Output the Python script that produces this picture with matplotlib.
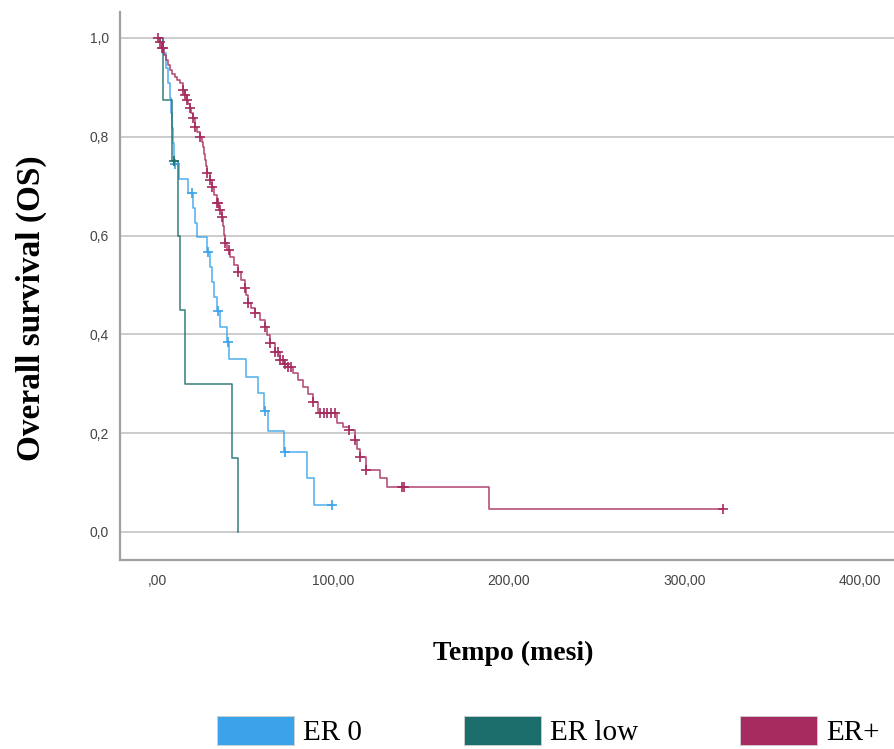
import numpy as np
import matplotlib
matplotlib.use("Agg")
import matplotlib.pyplot as plt
from matplotlib.patches import Patch

# ---------------- data ----------------
groups = ["ER 0", "ER low", "ER+"]
colors = ["#3AA3EA", "#1B6E6C", "#A62B5E"]

# ER 0: event times (months) and survival after each event
er0_times = [2.8, 4.6, 5.7, 6.8, 7.4, 8.0, 8.5, 9.1, 12.0, 17.0, 20.0, 21.0, 22.2,
             27.9, 29.6, 30.8, 31.9, 33.6, 35.3, 39.3, 40.5, 50.1, 57.0, 60.4,
             62.7, 71.8, 84.9, 88.9]
er0_surv = [0.970, 0.939, 0.909, 0.879, 0.848, 0.818, 0.788, 0.745, 0.715, 0.686,
            0.655, 0.626, 0.597, 0.567, 0.537, 0.507, 0.476, 0.447, 0.415, 0.385,
            0.350, 0.314, 0.281, 0.245, 0.204, 0.162, 0.109, 0.055]
er0_censor = [9.7, 19.4, 28.5, 34.2, 39.8, 61.0, 72.5, 99.1]

# ER low
erlow_times = [2.8, 8.0, 11.4, 12.5, 15.4, 42.4, 45.6]
erlow_surv = [0.875, 0.75, 0.60, 0.45, 0.30, 0.15, 0.0]
erlow_censor = [9.1]

# ER+
erp_times = [1.1, 2.3, 3.4, 4.6, 5.7, 6.8, 8.3, 9.7, 11.0, 12.5, 14.2, 15.4, 16.5,
             17.4, 18.2, 19.1, 19.9, 21.1, 22.5, 23.9, 25.0, 25.6, 26.3, 26.8,
             27.4, 27.9, 29.4, 30.8, 32.2, 33.6, 35.0, 36.5, 37.0, 37.6, 38.2,
             39.6, 41.0, 43.3, 45.6, 47.6, 49.6, 50.4, 51.3, 53.3, 55.3, 58.2,
             61.0, 62.4, 63.8, 66.7, 69.5, 71.8, 74.1, 76.9, 79.8, 82.6, 85.5,
             88.3, 91.0, 102.0, 105.5, 108.8, 112.3, 113.7, 115.1, 118.5, 126.5,
             130.5, 188.6]
erp_surv = [0.992, 0.980, 0.966, 0.955, 0.945, 0.935, 0.928, 0.921, 0.915, 0.909,
            0.895, 0.884, 0.874, 0.866, 0.858, 0.848, 0.838, 0.820, 0.810, 0.800,
            0.789, 0.779, 0.766, 0.753, 0.740, 0.727, 0.712, 0.698, 0.682, 0.666,
            0.652, 0.638, 0.620, 0.602, 0.585, 0.571, 0.557, 0.541, 0.526, 0.510,
            0.494, 0.479, 0.464, 0.453, 0.443, 0.429, 0.415, 0.399, 0.383, 0.365,
            0.348, 0.341, 0.334, 0.321, 0.307, 0.294, 0.279, 0.263, 0.241, 0.221,
            0.213, 0.206, 0.186, 0.169, 0.152, 0.126, 0.109, 0.091, 0.047]
erp_censor = [0.3, 1.1, 2.3, 2.8, 14.2, 15.4, 16.5, 18.2, 19.9, 21.1, 23.9, 27.9,
              29.6, 30.8, 33.6, 34.2, 35.3, 36.5, 38.2, 40.5, 45.6, 49.6, 51.3,
              55.3, 61.0, 63.8, 66.7, 68.4, 69.5, 71.2, 72.4, 74.1, 75.8, 88.3,
              92.3, 94.6, 96.3, 98.6, 100.9, 108.8, 112.3, 115.1, 118.5, 139.0,
              140.2, 321.9]

x_ticks = [0, 100, 200, 300, 400]
x_tick_labels = [",00", "100,00", "200,00", "300,00", "400,00"]
y_ticks = [0.0, 0.2, 0.4, 0.6, 0.8, 1.0]
y_tick_labels = ["0,0", "0,2", "0,4", "0,6", "0,8", "1,0"]

# ---------------- figure ----------------
W, H = 895, 749
fig = plt.figure(figsize=(W / 100, H / 100), dpi=100)
ax = fig.add_axes([120 / W, 1 - 560 / H, (W - 120) / W, (560 - 12) / H])

series = [
    (er0_times, er0_surv, er0_censor),
    (erlow_times, erlow_surv, erlow_censor),
    (erp_times, erp_surv, erp_censor),
]

for (t, s, c), col in zip(series, colors):
    t = np.asarray(t, float)
    s = np.asarray(s, float)
    c = np.asarray(c, float)
    end = max(t.max(), c.max() if len(c) else 0)
    xs = np.concatenate([[0.0], t, [end]])
    ys = np.concatenate([[1.0], s, [s[-1]]])
    ax.step(xs, ys, where="post", color=col, lw=1.15, alpha=0.85, zorder=3)
    if len(c):
        idx = np.searchsorted(t, c, side="right") - 1
        cy = np.where(idx >= 0, s[np.clip(idx, 0, None)], 1.0)
        ax.plot(c, cy, linestyle="none", marker="+", ms=7.5, mew=1.2,
                color=col, zorder=4)

ax.set_xlim(-21.6, 420)
ax.set_ylim(-0.0567, 1.0526)
ax.set_xticks(x_ticks)
ax.set_xticklabels(x_tick_labels)
ax.set_yticks(y_ticks)
ax.set_yticklabels(y_tick_labels)

for lab in ax.get_xticklabels() + ax.get_yticklabels():
    lab.set_fontfamily("Liberation Sans")
    lab.set_fontsize(10)
    lab.set_color("#444444")
ax.tick_params(axis="both", length=0)
ax.tick_params(axis="x", pad=10)
ax.tick_params(axis="y", pad=8)

ax.grid(axis="y", color="#c8c8c8", lw=1.3, zorder=0)
ax.set_axisbelow(True)
for side in ["top", "right"]:
    ax.spines[side].set_visible(False)
for side in ["left", "bottom"]:
    ax.spines[side].set_color("#a0a0a0")
    ax.spines[side].set_linewidth(1.6)

ax.set_xlabel("Tempo (mesi)", family="Liberation Serif", fontweight="bold",
              fontsize=20)
ax.set_ylabel("Overall survival (OS)", family="Liberation Serif",
              fontweight="bold", fontsize=24)
ax.xaxis.set_label_coords((513 - 120) / 775, (560 - 641) / 548)
ax.yaxis.set_label_coords((47 - 120) / 775, (560 - 308) / 548)

handles = [Patch(facecolor=col, edgecolor="#d0d0d0", lw=0.6, label=g)
           for g, col in zip(groups, colors)]
fig.legend(handles=handles, loc="center", ncol=3, frameon=False,
           bbox_to_anchor=(548 / W, 1 - 731 / H),
           prop=dict(family="Liberation Serif", size=21),
           handlelength=2.65, handleheight=1.15, handletextpad=0.3,
           columnspacing=3.5, borderaxespad=0)

fig.savefig("out.png", dpi=100, facecolor="white")
